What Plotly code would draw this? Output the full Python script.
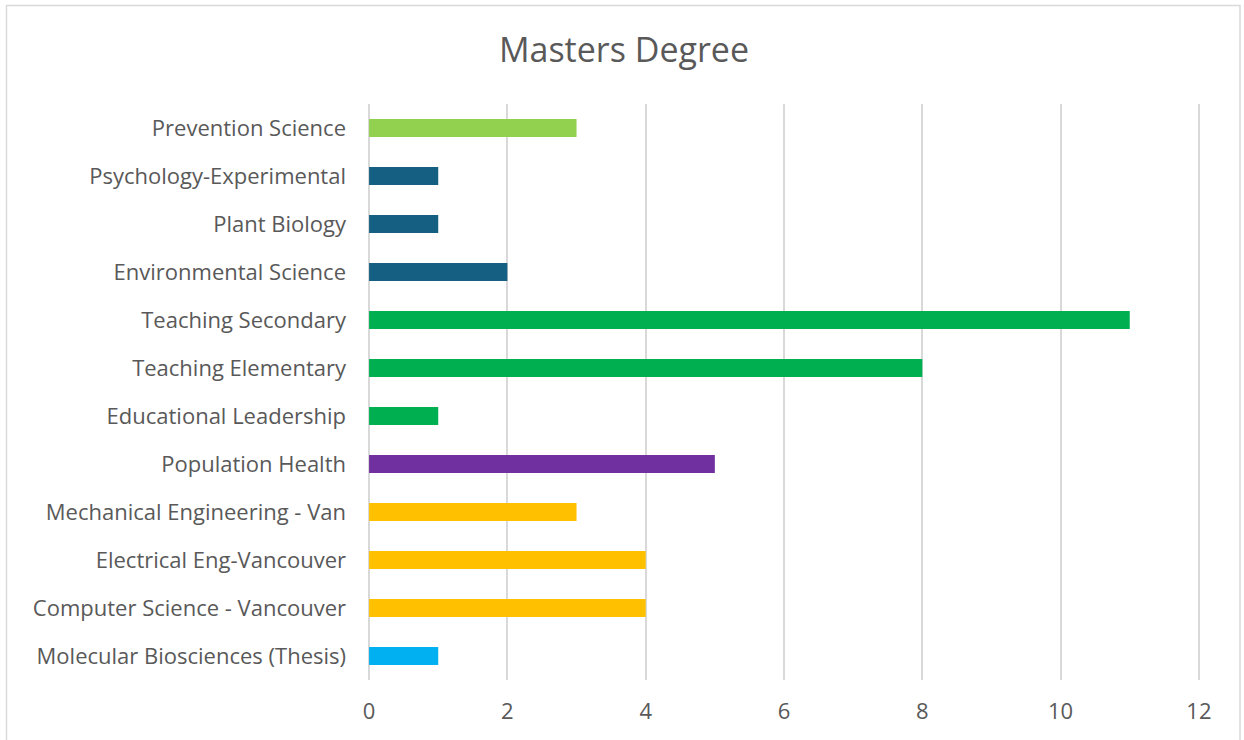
import plotly.graph_objects as go

categories = [
    "Molecular Biosciences (Thesis)",
    "Computer Science - Vancouver",
    "Electrical Eng-Vancouver",
    "Mechanical Engineering - Van",
    "Population Health",
    "Educational Leadership",
    "Teaching Elementary",
    "Teaching Secondary",
    "Environmental Science",
    "Plant Biology",
    "Psychology-Experimental",
    "Prevention Science",
]
values = [1, 4, 4, 3, 5, 1, 8, 11, 2, 1, 1, 3]
colors = ["#00B0F0", "#FFC000", "#FFC000", "#FFC000", "#7030A0", "#00B050",
          "#00B050", "#00B050", "#156082", "#156082", "#156082", "#92D050"]
x_ticks = [0, 2, 4, 6, 8, 10, 12]

W, H = 1244, 740
L, R, T, B = 367, 43, 104, 60
pw, ph = W - L - R, H - T - B

FONT = "Open Sans"
TXT = "#595959"

fig = go.Figure(go.Bar(
    x=values, y=categories, orientation="h",
    marker=dict(color=colors, line=dict(width=0)),
    width=0.375, hoverinfo="x+y",
))

fig.update_layout(
    width=W, height=H,
    margin=dict(l=L, r=R, t=T, b=B, autoexpand=False),
    paper_bgcolor="white", plot_bgcolor="white",
    showlegend=False,
    title=dict(text="Masters Degree", x=624 / W, xanchor="center",
               y=1 - 50 / H, yanchor="middle",
               font=dict(family=FONT, size=34, color=TXT)),
    xaxis=dict(range=[-0.03, 12.03], tickvals=x_ticks, showgrid=True,
               gridcolor="#D9D9D9", gridwidth=1.5, zeroline=False,
               showline=False, ticks="", ticklabelstandoff=16,
               tickfont=dict(family=FONT, size=22, color=TXT)),
    yaxis=dict(categoryorder="array", categoryarray=categories,
               range=[-0.5, len(categories) - 0.5],
               showgrid=False, zeroline=False, showline=False, ticks="",
               ticklabelstandoff=20,
               tickfont=dict(family=FONT, size=22, color=TXT)),
    shapes=[dict(type="rect", xref="paper", yref="paper",
                 x0=(6.5 - L) / pw, x1=(1240 - L) / pw,
                 y0=-(760 - (H - B)) / ph,
                 y1=(H - B - 5.5) / ph,
                 line=dict(color="#D9D9D9", width=1.5), fillcolor="rgba(0,0,0,0)",
                 layer="below")],
)

fig.write_html("out.html", config={"displayModeBar": False},
               post_script="document.body.style.margin='0';")
